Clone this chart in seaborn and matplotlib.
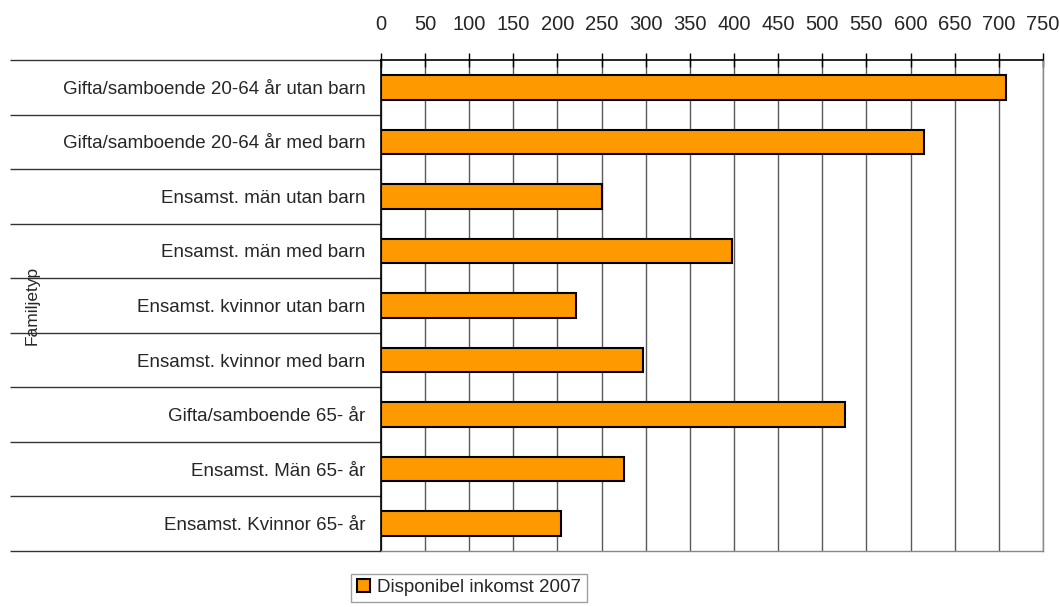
import numpy as np
import pandas as pd
import matplotlib
matplotlib.use('Agg')
import matplotlib.pyplot as plt
from matplotlib.patches import Patch
import seaborn as sns

categories = [
    'Gifta/samboende 20-64 år utan barn',
    'Gifta/samboende 20-64 år med barn',
    'Ensamst. män utan barn',
    'Ensamst. män med barn',
    'Ensamst. kvinnor utan barn',
    'Ensamst. kvinnor med barn',
    'Gifta/samboende 65- år',
    'Ensamst. Män 65- år',
    'Ensamst. Kvinnor 65- år',
]
inkomst_2007 = [708, 615, 250, 398, 221, 297, 526, 275, 204]
x_ticks = list(range(0, 751, 50))
series_name = 'Disponibel inkomst 2007'

df = pd.DataFrame({'Familjetyp': categories, 'Inkomst': inkomst_2007})

sns.set_style('white')
plt.rcParams['font.family'] = ['Liberation Sans', 'DejaVu Sans']

fig = plt.figure(figsize=(10.6, 6.07), dpi=100)
ax = fig.add_axes([0.3594, 0.0923, 0.6245, 0.8089])

sns.barplot(data=df, y='Familjetyp', x='Inkomst', orient='h', color='#FF9900',
            edgecolor='black', linewidth=1.5, width=0.45, saturation=1, ax=ax)

n = len(categories)
ax.set_xlim(0, 750)
ax.set_ylim(n - 0.5, -0.5)
ax.set_xticks(x_ticks)
ax.xaxis.tick_top()
ax.tick_params(axis='x', direction='inout', length=10, width=1, color='black',
               labelsize=14.5, pad=14)
ax.set_xlabel('')

# category separators drawn as long minor ticks reaching across the labels
ax.set_yticks(np.arange(-0.5, n, 1.0), minor=True)
ax.tick_params(axis='y', which='minor', length=267, width=1, color='#333333', left=True)
ax.tick_params(axis='y', which='major', length=0, labelsize=13.5, pad=11)
ax.set_ylabel('Familjetyp', fontsize=12.5)
ax.yaxis.set_label_coords(-0.516, 0.5)

ax.grid(axis='x', color='#5a5a5a', linewidth=1)
ax.set_axisbelow(True)
for side in ['left', 'top']:
    ax.spines[side].set_color('black')
    ax.spines[side].set_linewidth(1.2)
for side in ['right', 'bottom']:
    ax.spines[side].set_color('#888888')
    ax.spines[side].set_linewidth(1)

handle = Patch(facecolor='#FF9900', edgecolor='black', linewidth=1.5, label=series_name)
fig.legend(handles=[handle], loc='center', bbox_to_anchor=(0.4425, 0.0315),
           frameon=True, fancybox=False, edgecolor='#888888', fontsize=13.5,
           handlelength=0.7, handleheight=0.7, handletextpad=0.4,
           borderpad=0.3, borderaxespad=0)

fig.savefig('out.png', dpi=100)
